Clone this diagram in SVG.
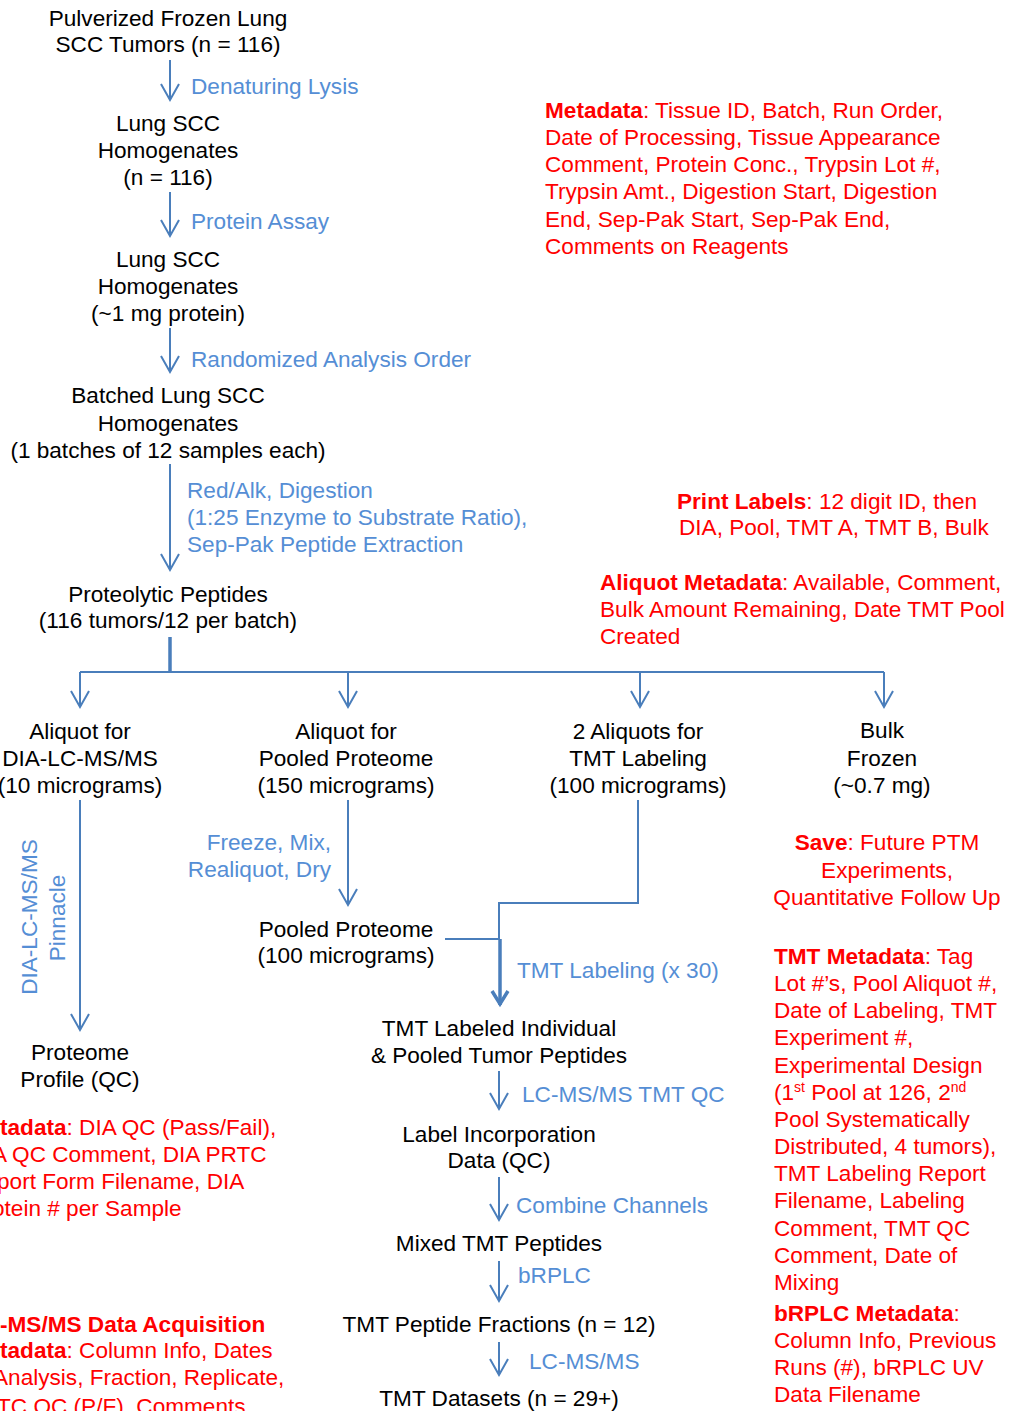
<svg xmlns="http://www.w3.org/2000/svg" width="1019" height="1411" viewBox="0 0 1019 1411">
<style>
text{font-family:"Liberation Sans",Arial,sans-serif;font-size:22.6px}
.n{fill:#000;text-anchor:middle}
.b{fill:#558ed5}
.r{fill:#ff0000}
.bd{font-weight:bold}
.sup{font-size:14px}
.c{fill:none;stroke:#4a7ebb;stroke-width:2}
.t{stroke-width:3.5}
</style>
<defs>
<marker id="ah" markerUnits="userSpaceOnUse" viewBox="-20 -11 23 22" refX="0" refY="0" markerWidth="23" markerHeight="22" orient="auto">
<path d="M-16,-9 L0,0 L-16,9" fill="none" stroke="#4a7ebb" stroke-width="2"/>
</marker>
<marker id="ahb" markerUnits="userSpaceOnUse" viewBox="-20 -11 23 22" refX="0" refY="0" markerWidth="23" markerHeight="22" orient="auto">
<path d="M-14,-8 L-1,0 L-14,8" fill="none" stroke="#4a7ebb" stroke-width="3.5"/>
</marker>
</defs>
<g id="connectors">
<path class="c" d="M170,60 V100" marker-end="url(#ah)"/>
<path class="c" d="M170,192 V236" marker-end="url(#ah)"/>
<path class="c" d="M170,328 V372" marker-end="url(#ah)"/>
<path class="c" d="M170,464 V570" marker-end="url(#ah)"/>
<path class="c t" d="M170,637 V672"/>
<path class="c" d="M80,672 H884"/>
<path class="c" d="M80,672 V707" marker-end="url(#ah)"/>
<path class="c" d="M348,672 V707" marker-end="url(#ah)"/>
<path class="c" d="M640,672 V707" marker-end="url(#ah)"/>
<path class="c" d="M884,672 V707" marker-end="url(#ah)"/>
<path class="c" d="M80,800 V1030" marker-end="url(#ah)"/>
<path class="c" d="M348,800 V905" marker-end="url(#ah)"/>
<path class="c" d="M638,800 V903 H499 V939"/>
<path class="c" d="M445,939 H500"/>
<path class="c t" d="M500,939 V1005" marker-end="url(#ahb)"/>
<path class="c" d="M499,1071 V1109" marker-end="url(#ah)"/>
<path class="c" d="M499,1177 V1220" marker-end="url(#ah)"/>
<path class="c" d="M499,1261 V1301" marker-end="url(#ah)"/>
<path class="c" d="M499,1342 V1375" marker-end="url(#ah)"/>
</g>
<g id="edge-labels">
<text class="b" x="191" y="94">Denaturing Lysis</text>
<text class="b" x="191" y="229">Protein Assay</text>
<text class="b" x="191" y="367">Randomized Analysis Order</text>
<text class="b" x="187" y="498">Red/Alk, Digestion</text>
<text class="b" x="187" y="525">(1:25 Enzyme to Substrate Ratio),</text>
<text class="b" x="187" y="552">Sep-Pak Peptide Extraction</text>
<text class="b" style="text-anchor:middle" transform="translate(37,917) rotate(-90)">DIA-LC-MS/MS</text>
<text class="b" style="text-anchor:middle" transform="translate(65,918) rotate(-90)">Pinnacle</text>
<text class="b" style="text-anchor:end" x="331" y="850">Freeze, Mix,</text>
<text class="b" style="text-anchor:end" x="331" y="877">Realiquot, Dry</text>
<text class="b" x="517" y="978">TMT Labeling (x 30)</text>
<text class="b" x="522" y="1102">LC-MS/MS TMT QC</text>
<text class="b" x="516" y="1213">Combine Channels</text>
<text class="b" x="518" y="1283">bRPLC</text>
<text class="b" x="529" y="1369">LC-MS/MS</text>
</g>
<g id="n-tumors"><text class="n" x="168" y="26">Pulverized Frozen Lung</text><text class="n" x="168" y="52">SCC Tumors (n = 116)</text></g>
<g id="n-homog1"><text class="n" x="168" y="131">Lung SCC</text><text class="n" x="168" y="158">Homogenates</text><text class="n" x="168" y="185">(n = 116)</text></g>
<g id="n-homog2"><text class="n" x="168" y="267">Lung SCC</text><text class="n" x="168" y="294">Homogenates</text><text class="n" x="168" y="321">(~1 mg protein)</text></g>
<g id="n-batched"><text class="n" x="168" y="403">Batched Lung SCC</text><text class="n" x="168" y="431">Homogenates</text><text class="n" x="168" y="458">(1 batches of 12 samples each)</text></g>
<g id="n-peptides"><text class="n" x="168" y="602">Proteolytic Peptides</text><text class="n" x="168" y="628">(116 tumors/12 per batch)</text></g>
<g id="n-dia"><text class="n" x="80" y="739">Aliquot for</text><text class="n" x="80" y="766">DIA-LC-MS/MS</text><text class="n" x="80" y="793">(10 micrograms)</text></g>
<g id="n-pool-aliquot"><text class="n" x="346" y="739">Aliquot for</text><text class="n" x="346" y="766">Pooled Proteome</text><text class="n" x="346" y="793">(150 micrograms)</text></g>
<g id="n-tmt-aliquot"><text class="n" x="638" y="739">2 Aliquots for</text><text class="n" x="638" y="766">TMT Labeling</text><text class="n" x="638" y="793">(100 micrograms)</text></g>
<g id="n-bulk"><text class="n" x="882" y="738">Bulk</text><text class="n" x="882" y="766">Frozen</text><text class="n" x="882" y="793">(~0.7 mg)</text></g>
<g id="n-pooled"><text class="n" x="346" y="937">Pooled Proteome</text><text class="n" x="346" y="963">(100 micrograms)</text></g>
<g id="n-profile"><text class="n" x="80" y="1060">Proteome</text><text class="n" x="80" y="1087">Profile (QC)</text></g>
<g id="n-tmt-labeled"><text class="n" x="499" y="1036">TMT Labeled Individual</text><text class="n" x="499" y="1063">&amp; Pooled Tumor Peptides</text></g>
<g id="n-label-inc"><text class="n" x="499" y="1142">Label Incorporation</text><text class="n" x="499" y="1168">Data (QC)</text></g>
<g id="n-mixed"><text class="n" x="499" y="1251">Mixed TMT Peptides</text></g>
<g id="n-fractions"><text class="n" x="499" y="1332">TMT Peptide Fractions (n = 12)</text></g>
<g id="n-datasets"><text class="n" x="499" y="1406">TMT Datasets (n = 29+)</text></g>
<g id="notes">
<text class="r" x="545" y="118"><tspan class="bd">Metadata</tspan>: Tissue ID, Batch, Run Order,</text>
<text class="r" x="545" y="145">Date of Processing, Tissue Appearance</text>
<text class="r" x="545" y="172">Comment, Protein Conc., Trypsin Lot #,</text>
<text class="r" x="545" y="199">Trypsin Amt., Digestion Start, Digestion</text>
<text class="r" x="545" y="227">End, Sep-Pak Start, Sep-Pak End,</text>
<text class="r" x="545" y="254">Comments on Reagents</text>
<text class="r" x="677" y="509"><tspan class="bd">Print Labels</tspan>: 12 digit ID, then</text>
<text class="r" x="679" y="535">DIA, Pool, TMT A, TMT B, Bulk</text>
<text class="r" x="600" y="590"><tspan class="bd">Aliquot Metadata</tspan>: Available, Comment,</text>
<text class="r" x="600" y="617">Bulk Amount Remaining, Date TMT Pool</text>
<text class="r" x="600" y="644">Created</text>
<text class="r" x="887" y="850" style="text-anchor:middle"><tspan class="bd">Save</tspan>: Future PTM</text>
<text class="r" x="887" y="878" style="text-anchor:middle">Experiments,</text>
<text class="r" x="887" y="905" style="text-anchor:middle">Quantitative Follow Up</text>
<text class="r" x="774" y="964"><tspan class="bd">TMT Metadata</tspan>: Tag</text>
<text class="r" x="774" y="991">Lot #’s, Pool Aliquot #,</text>
<text class="r" x="774" y="1018">Date of Labeling, TMT</text>
<text class="r" x="774" y="1045">Experiment #,</text>
<text class="r" x="774" y="1073">Experimental Design</text>
<text class="r" x="774" y="1100">(1<tspan class="sup" dy="-8">st</tspan><tspan dy="8"> Pool at 126, 2</tspan><tspan class="sup" dy="-8">nd</tspan></text>
<text class="r" x="774" y="1127">Pool Systematically</text>
<text class="r" x="774" y="1154">Distributed, 4 tumors),</text>
<text class="r" x="774" y="1181">TMT Labeling Report</text>
<text class="r" x="774" y="1208">Filename, Labeling</text>
<text class="r" x="774" y="1236">Comment, TMT QC</text>
<text class="r" x="774" y="1263">Comment, Date of</text>
<text class="r" x="774" y="1290">Mixing</text>
<text class="r" x="774" y="1321"><tspan class="bd">bRPLC Metadata</tspan>:</text>
<text class="r" x="774" y="1348">Column Info, Previous</text>
<text class="r" x="774" y="1375">Runs (#), bRPLC UV</text>
<text class="r" x="774" y="1402">Data Filename</text>
<text class="r" x="0" y="1135"><tspan class="bd">tadata</tspan>: DIA QC (Pass/Fail),</text>
<text class="r" x="-8" y="1162">A QC Comment, DIA PRTC</text>
<text class="r" x="-3" y="1189">port Form Filename, DIA</text>
<text class="r" x="-8" y="1216">otein # per Sample</text>
<text class="r bd" x="0" y="1332">-MS/MS Data Acquisition</text>
<text class="r" x="0" y="1358"><tspan class="bd">tadata</tspan>: Column Info, Dates</text>
<text class="r" x="-7" y="1385">Analysis, Fraction, Replicate,</text>
<text class="r" x="-3" y="1414">TC QC (P/F), Comments</text>
</g>
</svg>
